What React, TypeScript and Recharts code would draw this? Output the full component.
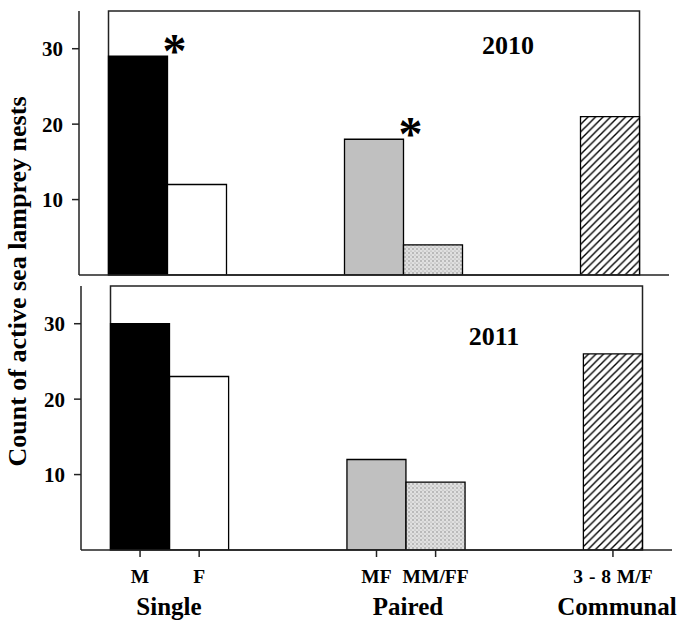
import React from "react";
import { BarChart, Bar, XAxis, YAxis, Cell, LabelList, ReferenceArea } from "recharts";

// ---- data ----
const tickLabels = ["M", "F", "MF", "MM/FF", "3 - 8 M/F"];
const groupOf = ["Single", "Single", "Paired", "Paired", "Communal"];
const groupLabels = ["Single", "Paired", "Communal"];
const counts2010 = [29, 12, 18, 4, 21];
const counts2011 = [30, 23, 12, 9, 26];
const significant2010 = [true, false, true, false, false];
const significant2011 = [false, false, false, false, false];
const yTicks = [10, 20, 30];
const yMax = 35;
const yTitle = "Count of active sea lamprey nests";

// ---- styles ----
const FONT = "'Liberation Serif', 'Times New Roman', serif";
const fills = ["#000000", "#ffffff", "#c0c0c0", "url(#stipple)", "url(#hatch)"];
const AXIS = "#222";

type Row = { key: string; count: number | null; star: string; idx: number | null };

function buildRows(values: number[], stars: boolean[]): Row[] {
  const rows: Row[] = [];
  let gap = 0;
  tickLabels.forEach((label, i) => {
    if (i > 0 && groupOf[i] !== groupOf[i - 1]) {
      rows.push({ key: `gap${gap++}`, count: null, star: "", idx: null });
      rows.push({ key: `gap${gap++}`, count: null, star: "", idx: null });
    }
    rows.push({ key: label, count: values[i], star: stars[i] ? "*" : "", idx: i });
  });
  return rows;
}

const StarLabel = (props: any) => {
  const { x, y, width, value } = props;
  if (!value) return null;
  return (
    <text
      x={x + width + 7}
      y={y + 11}
      textAnchor="middle"
      fontFamily={FONT}
      fontWeight="bold"
      fontSize={48}
      fill="#000"
    >
      {value}
    </text>
  );
};

type PanelProps = {
  rows: Row[];
  height: number;
  yAxisWidth: number;
  rightMargin: number;
  xAxisHeight: number;
  showLabels: boolean;
};

function Panel({ rows, height, yAxisWidth, rightMargin, xAxisHeight, showLabels }: PanelProps) {
  return (
    <BarChart
      width={681}
      height={height}
      data={rows}
      margin={{ top: 11, right: rightMargin, bottom: 0, left: 0 }}
      barCategoryGap={0}
      barGap={0}
    >
      <XAxis
        dataKey="key"
        type="category"
        ticks={tickLabels}
        interval={0}
        padding={{ left: 29.5, right: 29.5 }}
        height={xAxisHeight}
        tickSize={7}
        tickMargin={12}
        axisLine={{ stroke: AXIS, strokeWidth: 1.5 }}
        tickLine={{ stroke: AXIS, strokeWidth: 1.5 }}
        tick={
          showLabels
            ? { fill: "#000", fontSize: 19.5, fontWeight: "bold", fontFamily: FONT, style: { wordSpacing: "1px" } }
            : false
        }
      />
      <YAxis
        type="number"
        domain={[0, yMax]}
        ticks={yTicks}
        width={yAxisWidth}
        allowDataOverflow
        tickSize={7}
        tickMargin={9}
        axisLine={{ stroke: AXIS, strokeWidth: 1.5 }}
        tickLine={{ stroke: AXIS, strokeWidth: 1.5 }}
        tick={{ fill: "#000", fontSize: 21, fontWeight: "bold", fontFamily: FONT }}
      />
      <ReferenceArea y1={0} y2={yMax} fill="none" fillOpacity={0} stroke={AXIS} strokeWidth={1.5} />
      <Bar dataKey="count" isAnimationActive={false}>
        {rows.map((r, i) => (
          <Cell
            key={i}
            fill={r.idx != null ? fills[r.idx] : "none"}
            stroke="#000"
            strokeWidth={1.3}
          />
        ))}
        <LabelList dataKey="star" content={StarLabel} />
      </Bar>
    </BarChart>
  );
}

const groupCenters = [169, 408, 617];

export default function App() {
  const rows2010 = buildRows(counts2010, significant2010);
  const rows2011 = buildRows(counts2011, significant2011);
  return (
    <div
      style={{
        position: "absolute",
        left: 0,
        top: 0,
        width: 681,
        height: 622,
        background: "#fff",
        overflow: "hidden",
        fontFamily: FONT,
      }}
    >
      <svg width={0} height={0} style={{ position: "absolute" }}>
        <defs>
          <pattern id="stipple" width="4" height="4" patternUnits="userSpaceOnUse">
            <rect width="4" height="4" fill="#e0e0e0" />
            <circle cx="1" cy="1" r="0.7" fill="#777" />
            <circle cx="3" cy="3" r="0.6" fill="#999" />
          </pattern>
          <pattern id="hatch" width="7.5" height="7.5" patternUnits="userSpaceOnUse">
            <rect width="7.5" height="7.5" fill="#fff" />
            <path d="M-2,2 L2,-2 M0,7.5 L7.5,0 M5.5,9.5 L9.5,5.5" stroke="#000" strokeWidth="1.4" />
          </pattern>
        </defs>
      </svg>
      <div style={{ position: "absolute", left: 0, top: 0 }}>
        <Panel rows={rows2010} height={290} yAxisWidth={79} rightMargin={12} xAxisHeight={15} showLabels={false} />
      </div>
      <div style={{ position: "absolute", left: 0, top: 275 }}>
        <Panel rows={rows2011} height={315} yAxisWidth={81} rightMargin={9} xAxisHeight={40} showLabels={true} />
      </div>
      <svg
        width={681}
        height={622}
        style={{ position: "absolute", left: 0, top: 0, pointerEvents: "none" }}
      >
        <text
          x={26}
          y={281.5}
          transform="rotate(-90, 26, 281.5)"
          textAnchor="middle"
          fontFamily={FONT}
          fontWeight="bold"
          fontSize={26}
          fill="#000"
        >
          {yTitle}
        </text>
        <text x={508} y={54} textAnchor="middle" fontFamily={FONT} fontWeight="bold" fontSize={26} fill="#000">
          2010
        </text>
        <text x={494} y={345} textAnchor="middle" fontFamily={FONT} fontWeight="bold" fontSize={26} fill="#000">
          2011
        </text>
        {groupLabels.map((g, i) => (
          <text
            key={g}
            x={groupCenters[i]}
            y={615}
            textAnchor="middle"
            fontFamily={FONT}
            fontWeight="bold"
            fontSize={25}
            fill="#000"
          >
            {g}
          </text>
        ))}
      </svg>
    </div>
  );
}
